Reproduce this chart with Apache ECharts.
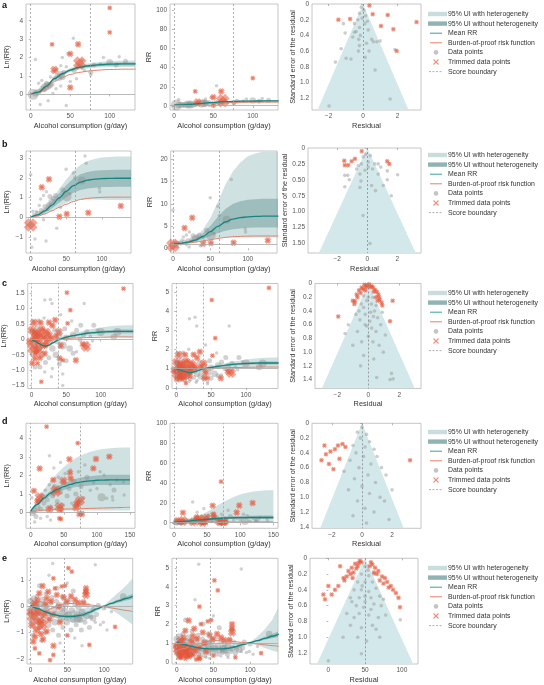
<!DOCTYPE html>
<html>
<head>
<meta charset="utf-8">
<script src="https://cdn.jsdelivr.net/npm/echarts@6/dist/echarts.min.js"></script>
<style>
  html, body { margin: 0; padding: 0; background: #fff; }
  #chart { width: 544px; height: 685px; }
</style>
</head>
<body>
<div id="chart"></div>
<script>
// ---- shared ticks ----
const xTicks = [0, 50, 100]
const xTicksD = [0, 50, 100, 150]
const resTicks = [-2, 0, 2]
const resLabels = ['−2', '0', '2']

// ---- row a ----
const aCurveX = [0, 10, 20, 30, 40, 50, 60, 70, 80, 90, 100, 110, 120, 133]
const aMean = [0, 0.12, 0.45, 0.85, 1.12, 1.32, 1.45, 1.53, 1.58, 1.62, 1.64, 1.65, 1.66, 1.66]
const aOutHi = [0, 0.16, 0.52, 0.94, 1.22, 1.43, 1.57, 1.66, 1.72, 1.77, 1.8, 1.82, 1.83, 1.84]
const aOutLo = [0, 0.08, 0.38, 0.76, 1.02, 1.21, 1.33, 1.4, 1.44, 1.47, 1.48, 1.48, 1.49, 1.48]
const aInHi = [0, 0.14, 0.49, 0.9, 1.17, 1.38, 1.51, 1.6, 1.65, 1.7, 1.72, 1.73, 1.75, 1.75]
const aInLo = [0, 0.1, 0.41, 0.8, 1.07, 1.26, 1.39, 1.46, 1.51, 1.54, 1.56, 1.57, 1.57, 1.57]
const aBop = [0, 0.08, 0.35, 0.7, 0.92, 1.08, 1.18, 1.25, 1.3, 1.33, 1.35, 1.36, 1.37, 1.37]
const aBounds = [0, 75]
// [consumption, ln(RR), weight]
const aGray = [[3, 0, 6], [6, 0.05, 3], [9, 0.12, 3], [12, 0.2, 2], [15, 0.3, 3], [18, 0.38, 4], [21, 0.45, 4], [24, 0.5, 3], [27, 0.55, 2], [20, 0.6, 2], [17, 0.25, 2], [12, -0.55, 1], [6, 1.9, 1], [10, 0.6, 1], [14, 0.75, 1], [22, -0.35, 1], [28, 0.05, 1], [30, 0.85, 2], [33, 1.35, 1], [35, 0.95, 4], [38, 1.05, 4], [40, 0.95, 3], [42, 1.2, 2], [38, 1.55, 1], [40, 2.0, 1], [45, 1.5, 1], [47, 2.2, 1], [45, -0.6, 1], [54, 3.05, 1], [55, 1.3, 2], [58, 0.85, 1], [60, 1.55, 2], [65, 1.85, 1], [68, 1.3, 1], [76, 1.2, 2], [76, 1.05, 1], [80, 1.6, 2], [88, 1.65, 1], [92, 2.0, 1], [100, 1.75, 3], [108, 1.6, 2], [112, 2.05, 1], [120, 1.8, 2], [38, 0.45, 1], [50, 0.7, 1], [32, 0.3, 1], [25, 0.95, 1], [30, 1.25, 1]]
const aTrim = [[100, 4.7, 1], [100, 3.37, 1], [27, 2.72, 1], [60, 2.72, 2], [50, 2.2, 2], [30, 1.33, 3], [62, 1.7, 6], [50, 0.37, 2]]
// [residual, standard error]
const aFunGray = [[-0.1, 0.04], [0.05, 0.08], [-0.2, 0.12], [0.15, 0.15], [-0.3, 0.2], [-0.5, 0.25], [-0.2, 0.3], [0.3, 0.33], [-0.4, 0.35], [-0.5, 0.36], [-0.6, 0.42], [0.5, 0.45], [-0.25, 0.45], [0.6, 0.48], [0.8, 0.48], [0.99, 0.47], [0.2, 0.5], [-0.21, 0.53], [-0.27, 0.6], [0.12, 0.68], [-0.7, 0.7], [0.7, 0.84], [1.57, 1.21], [-1.14, 0.25], [-1.04, 0.37], [-1.27, 0.57], [-0.98, 0.69], [-1.6, 0.74], [-1.97, 1.3], [0.1, 0.25], [-0.05, 0.18], [0.25, 0.22], [-0.15, 0.4], [0.35, 0.6], [1.85, 0.58]]
const aFunTrim = [[0.37, 0.02], [0.56, 0.13], [1.43, 0.14], [1.04, 0.28], [1.76, 0.32], [3.1, 0.23], [1.95, 0.6], [-1.43, 0.2], [-0.75, 0.19]]
const aFunnel = [[0, 0], [-2.64, 1.35], [2.64, 1.35]]
const aLnTicks = [0, 1, 2, 3, 4]
const aLnLabels = ['0', '1', '2', '3', '4']
const aRrTicks = [0, 20, 40, 60, 80, 100]
const aRrLabels = ['0', '20', '40', '60', '80', '100']
const aSeTicks = [0, 0.2, 0.4, 0.6, 0.8, 1.0, 1.2]
const aSeLabels = ['0', '0.2', '0.4', '0.6', '0.8', '1.0', '1.2']

// ---- row b ----
const bCurveX = [0, 10, 20, 30, 40, 50, 60, 70, 80, 90, 100, 110, 120, 130, 141]
const bMean = [0, 0.12, 0.33, 0.62, 0.98, 1.32, 1.6, 1.78, 1.88, 1.93, 1.96, 1.97, 1.98, 1.98, 1.98]
const bOutHi = [0, 0.2, 0.51, 0.92, 1.43, 1.92, 2.35, 2.66, 2.85, 2.96, 3.03, 3.06, 3.08, 3.08, 3.08]
const bOutLo = [0, 0.04, 0.15, 0.32, 0.53, 0.72, 0.85, 0.9, 0.91, 0.9, 0.89, 0.88, 0.88, 0.88, 0.88]
const bInHi = [0, 0.16, 0.43, 0.78, 1.22, 1.62, 1.96, 2.18, 2.3, 2.36, 2.39, 2.4, 2.41, 2.41, 2.41]
const bInLo = [0, 0.08, 0.23, 0.46, 0.74, 1.02, 1.24, 1.38, 1.46, 1.5, 1.53, 1.54, 1.55, 1.55, 1.55]
const bBop = [0, 0.06, 0.17, 0.33, 0.5, 0.66, 0.8, 0.9, 0.96, 0.99, 1.01, 1.02, 1.02, 1.02, 1.02]
const bBounds = [0, 62]
const bGray = [[0, 2.15, 1], [1.4, -1.52, 1], [6, -1.1, 1], [21.6, -1.2, 1], [27, 1.05, 2], [14, 0.93, 1], [36.6, -0.56, 1], [50.7, 1.05, 5], [71.7, 1.86, 4], [76.4, 3.11, 1], [78, 2.74, 1], [49.8, 2.43, 1], [96.6, 1.47, 1], [97, 1.3, 1], [8, 0.28, 1], [18, -0.13, 1], [29.5, 0.79, 3], [31.8, 0.96, 2], [5, 0.1, 2], [10, 0.2, 2], [15, 0.35, 2], [20, 0.55, 2], [25, 0.65, 2], [35, 1.1, 2], [40, 0.9, 1], [45, 1.4, 2], [55, 1.2, 1], [60, 2.25, 1], [22, 1.3, 1], [18, 1.1, 1], [12, 0.6, 1], [3, 0.3, 1], [24, 0.4, 1], [42, 0.5, 1], [62, 2.0, 1]]
const bTrim = [[0, -0.39, 6], [15.5, 1.52, 2], [25.7, 1.93, 2], [40.3, 0.03, 2], [50.7, 0.17, 2], [81, 0.23, 2], [126.7, 0.57, 2]]
const bFunGray = [[-1.5, 0.43], [-1.3, 0.43], [-1.2, 0.5], [-1.5, 0.61], [-0.27, 0.14], [0.07, 0.22], [0.5, 0.25], [0.73, 0.25], [-0.71, 0.33], [-0.49, 0.41], [-0.42, 0.52], [-0.49, 0.62], [0.55, 0.67], [1.07, 0.59], [1.33, 0.5], [1.33, 0.36], [2.02, 0.42], [1.6, 0.75], [-0.28, 1.06], [0.18, 1.5], [0.73, 0.41], [0.29, 0.59], [0.07, 0.3], [-0.1, 0.1], [0.2, 0.12], [-0.4, 0.25], [0.35, 0.33], [-0.15, 0.35], [0.9, 0.3], [-0.6, 0.28]]
const bFunTrim = [[-0.37, 0.05], [-0.82, 0.17], [-1.04, 0.21], [-1.53, 0.2], [-1.27, 0.27], [-1.5, 0.27], [1.33, 0.21], [1.47, 0.25]]
const bFunnel = [[0, 0], [-3.25, 1.66], [3.25, 1.66]]
const bLnTicks = [-1, 0, 1, 2, 3]
const bLnLabels = ['−1', '0', '1', '2', '3']
const bRrTicks = [0, 5, 10, 15, 20]
const bRrLabels = ['0', '5', '10', '15', '20']
const bSeTicks = [0, 0.25, 0.5, 0.75, 1.0, 1.25, 1.5]
const bSeLabels = ['0', '0.25', '0.50', '0.75', '1.00', '1.25', '1.50']

// ---- row c ----
const cCurveX = [0, 5, 10, 15, 20, 25, 30, 40, 50, 60, 70, 80, 90, 100, 110, 120, 130, 140, 147]
const cMean = [0, -0.06, -0.13, -0.19, -0.22, -0.19, -0.12, 0.0, 0.07, 0.12, 0.16, 0.2, 0.22, 0.24, 0.25, 0.26, 0.26, 0.26, 0.26]
const cOutHi = [0, -0.04, -0.1, -0.16, -0.19, -0.16, -0.09, 0.04, 0.12, 0.19, 0.25, 0.31, 0.35, 0.39, 0.42, 0.44, 0.45, 0.46, 0.46]
const cOutLo = [0, -0.08, -0.16, -0.22, -0.25, -0.22, -0.15, -0.04, 0.02, 0.05, 0.07, 0.09, 0.09, 0.09, 0.08, 0.08, 0.07, 0.06, 0.06]
const cInHi = [0, -0.05, -0.12, -0.18, -0.21, -0.18, -0.11, 0.01, 0.09, 0.14, 0.19, 0.23, 0.26, 0.28, 0.3, 0.31, 0.32, 0.32, 0.32]
const cInLo = [0, -0.07, -0.14, -0.2, -0.23, -0.2, -0.13, -0.01, 0.05, 0.1, 0.13, 0.17, 0.18, 0.2, 0.2, 0.21, 0.2, 0.2, 0.2]
const cBop = [0, -0.06, -0.12, -0.17, -0.19, -0.16, -0.1, -0.01, 0.03, 0.04, 0.05, 0.06, 0.06, 0.07, 0.07, 0.08, 0.08, 0.08, 0.08]
const cBounds = [0, 39]
const cGray = [[19, 1.28, 1], [29.5, 1.17, 1], [76, 1.17, 1], [71, 0.46, 2], [90, 0.46, 2], [100, 0.24, 4], [124, 0.24, 4], [119, 0.08, 3], [45, -1.13, 1], [28.6, -1.22, 1], [19, -1.06, 1], [5, -0.9, 2], [40, -0.8, 2], [35, -0.5, 3], [55, -0.3, 3], [60, -0.45, 2], [45, -0.2, 4], [50, 0.05, 3], [60, 0.15, 3], [65, 0.3, 2], [70, 0.0, 2], [75, 0.15, 2], [80, 0.25, 2], [85, 0.1, 1], [48, 0.35, 2], [40, 0.1, 3], [30, -0.3, 3], [25, -0.6, 2], [20, -0.75, 2], [15, -0.5, 3], [10, -0.3, 3], [8, 0.35, 3], [2, 0.25, 3], [4, -0.15, 4], [12, 0.05, 3], [22, 0.05, 3], [26, -0.1, 3], [33, 0.3, 2], [37, -0.05, 3], [12, -0.9, 2], [30, -0.95, 1], [50, -0.7, 2], [65, -0.4, 1], [58, 0.6, 1], [88, -0.05, 1], [95, 0.3, 1], [42, 0.8, 1], [18, 0.7, 1], [27, 1.3, 1], [10, 0.6, 2], [1, -0.5, 2], [3, 0.6, 1], [45, -1.5, 1], [80, -0.1, 1]]
const cTrim = [[133, 1.65, 1], [51, 1.52, 1], [56, 0.95, 1], [34, 0.63, 2], [25, 0.55, 2], [30, 0.45, 2], [3.3, 0.54, 3], [12.9, 0.54, 2], [7, 0.09, 5], [13, 0.19, 5], [25, 0.14, 3], [39.3, 0.24, 3], [-2.4, -0.08, 3], [2, -0.3, 5], [9.5, -0.35, 4], [16.7, -0.18, 3], [4.8, -0.62, 2], [1, -0.78, 2], [40.5, -0.62, 2], [45, -0.68, 1], [64, -0.68, 2], [78.6, -0.24, 4], [74, -0.16, 2], [14, -1.38, 1], [8.6, -0.78, 1], [19, -0.46, 2], [21.4, 0.25, 3], [28.6, 0.03, 2], [52, 0.52, 1], [0, 0.3, 3], [5, 0.2, 3], [10, -0.1, 3], [18, 0.05, 2], [6, -0.45, 2], [15, 0.35, 2], [20, -0.2, 2], [22, -0.05, 2], [3, 0.0, 3], [12, -0.6, 2], [35, 0.1, 2], [42, -0.2, 2]]
const cFunGray = [[-0.54, 0.53], [0.22, 0.65], [0.0, 0.77], [0.97, 1.0], [-0.43, 0.85], [1.5, 1.31], [1.6, 1.39], [1.4, 1.4], [0.54, 1.37], [-0.21, 0.6], [0.33, 0.48], [-1.29, 0.6], [-1.5, 0.73], [-0.3, 0.35], [0.2, 0.3], [-0.1, 0.25], [0.4, 0.4], [-0.6, 0.4], [0.6, 0.5], [-0.8, 0.45], [0.8, 0.6], [-0.2, 0.45], [0.1, 0.55], [0.5, 0.7], [-0.7, 0.7], [0.3, 0.85], [-0.3, 1.05], [0.7, 0.9], [-1.0, 0.9], [1.1, 0.75], [0.0, 0.2], [-0.3, 0.18], [0.3, 0.2], [-0.45, 0.3], [0.5, 0.32], [0.15, 0.42], [-0.1, 0.62], [0.35, 1.1], [-0.5, 1.2], [0.9, 0.42]]
const cFunTrim = [[1.57, 0.25], [1.4, 0.55], [-0.75, 0.16], [-0.86, 0.26], [-0.43, 0.06], [-0.11, 0.03], [0.22, 0.04], [0.43, 0.09], [0.65, 0.16], [0.75, 0.24], [0.86, 0.28], [-1.94, 0.48], [-0.25, 0.02], [0.05, 0.01], [0.3, 0.06], [-0.6, 0.1], [-0.5, 0.14], [0.55, 0.12], [-0.7, 0.2], [0.7, 0.2], [-0.35, 0.08], [0.1, 0.05], [-0.15, 0.05], [0.5, 0.2], [-0.9, 0.3], [0.9, 0.32], [-0.2, 0.1], [0.35, 0.12], [-1.0, 0.25], [0.6, 0.25]]
const cFunnel = [[0, 0], [-3.0, 1.53], [3.0, 1.53]]
const cLnTicks = [-1.5, -1, -0.5, 0, 0.5, 1, 1.5]
const cLnLabels = ['−1.5', '−1.0', '−0.5', '0', '0.5', '1.0', '1.5']
const cRrTicks = [0, 1, 2, 3, 4, 5]
const cRrLabels = ['0', '1', '2', '3', '4', '5']
const cSeTicks = [0, 0.2, 0.4, 0.6, 0.8, 1.0, 1.2, 1.4]
const cSeLabels = ['0', '0.2', '0.4', '0.6', '0.8', '1.0', '1.2', '1.4']

// ---- row d ----
const dCurveX = [0, 10, 20, 30, 40, 50, 60, 70, 80, 90, 100, 110, 120, 130, 140, 150]
const dMean = [0.08, 0.45, 0.78, 1.05, 1.25, 1.4, 1.52, 1.61, 1.67, 1.71, 1.74, 1.75, 1.76, 1.76, 1.76, 1.76]
const dOutHi = [0.13, 0.7, 1.23, 1.7, 2.1, 2.45, 2.74, 2.97, 3.14, 3.27, 3.36, 3.42, 3.46, 3.48, 3.5, 3.5]
const dOutLo = [0.0, 0.05, 0.08, 0.1, 0.11, 0.12, 0.12, 0.12, 0.12, 0.12, 0.12, 0.12, 0.12, 0.12, 0.12, 0.12]
const dInHi = [0.1, 0.51, 0.88, 1.18, 1.41, 1.58, 1.72, 1.83, 1.91, 1.96, 2.0, 2.02, 2.03, 2.04, 2.04, 2.04]
const dInLo = [0.06, 0.39, 0.68, 0.92, 1.09, 1.22, 1.32, 1.39, 1.43, 1.46, 1.48, 1.48, 1.49, 1.48, 1.48, 1.48]
const dBop = [0.03, 0.1, 0.14, 0.16, 0.18, 0.19, 0.2, 0.21, 0.22, 0.23, 0.24, 0.25, 0.26, 0.27, 0.28, 0.29]
const dBounds = [0, 75]
const dGray = [[28.2, 3.06, 1], [110.7, 2.02, 1], [81.8, 2.56, 1], [114.7, 0.77, 1], [123.3, 0.86, 1], [125.8, 1.22, 2], [124, 0.68, 1], [141, 0.95, 1], [107, 0.83, 4], [120, 1.5, 1], [130, 1.75, 1], [140, 1.65, 1], [5, 0.1, 3], [8, -0.2, 2], [10, 0.3, 3], [3, 0.0, 3], [12, 0.6, 2], [15, 0.2, 2], [18, 0.9, 2], [20, 0.5, 2], [22, 1.2, 1], [25, 0.7, 2], [28, 1.5, 1], [30, 0.3, 2], [33, 0.9, 2], [36, 1.4, 2], [40, 0.6, 2], [42, 1.9, 1], [45, 1.1, 2], [48, 0.4, 2], [50, 1.6, 2], [52, 2.1, 1], [55, 0.9, 2], [58, 1.3, 2], [62, 0.5, 1], [65, 1.7, 2], [68, 1.0, 2], [72, 2.2, 1], [76, 1.4, 2], [80, 0.8, 1], [85, 1.9, 2], [90, 1.2, 1], [95, 1.6, 1], [100, 1.3, 1], [105, 2.2, 1], [6, -0.5, 1], [15, -0.3, 1], [25, -0.2, 1], [35, 2.4, 1], [45, 2.7, 1], [60, 2.3, 1], [2, 0.8, 1], [30, -0.4, 1]]
const dTrim = [[24, 4.62, 1], [71, 3.73, 1], [4.9, 1.17, 2], [13.5, 2.37, 2], [13.5, 0.83, 4], [34, 1.76, 2], [38.2, 1.17, 5], [49.3, 1.71, 3], [58.4, 2.87, 2], [59.4, 2.15, 2], [60.4, 1.84, 2], [94.6, 2.38, 2], [98.6, 2.88, 2], [118.7, 3.01, 2], [43.3, 0.3, 4], [28.2, 0.18, 3], [43.3, -0.31, 1], [45.8, -0.34, 1], [74.5, 0.65, 4], [70.4, 0.5, 3], [68.4, 0.29, 3], [73.4, -0.07, 2], [77.5, -0.07, 2], [45, 0.15, 2], [10, 0.6, 2]]
const dFunGray = [[0, 0.05], [-0.3, 0.12], [0.3, 0.15], [-0.1, 0.2], [0.5, 0.25], [-0.6, 0.3], [0.2, 0.32], [0.8, 0.35], [-0.4, 0.4], [1.0, 0.45], [0.1, 0.45], [-0.8, 0.5], [0.6, 0.55], [-0.2, 0.6], [1.3, 0.6], [0.4, 0.7], [-0.5, 0.75], [0.9, 0.8], [1.6, 0.7], [0.0, 0.85], [-0.9, 0.9], [0.5, 0.95], [1.2, 1.0], [-0.3, 1.05], [0.2, 1.15], [0.8, 1.2], [-0.6, 1.25], [1.5, 1.05], [2.0, 0.9], [-1.2, 0.65], [0.3, 1.35], [1.8, 1.3]]
const dFunTrim = [[-2.7, 0.5], [-2.4, 0.42], [-2.1, 0.38], [-1.8, 0.35], [-1.6, 0.3], [-1.3, 0.28], [-1.1, 0.32], [-2.2, 0.55], [-1.9, 0.62], [-1.5, 0.48], [-2.5, 0.3], [3.2, 0.5]]
const dFunnel = [[0, 0], [-2.78, 1.42], [2.78, 1.42]]
const dLnTicks = [0, 1, 2, 3, 4]
const dLnLabels = ['0', '1', '2', '3', '4']
const dRrTicks = [0, 20, 40, 60, 80, 100]
const dRrLabels = ['0', '20', '40', '60', '80', '100']
const dSeTicks = [0, 0.2, 0.4, 0.6, 0.8, 1.0, 1.2, 1.4]
const dSeLabels = ['0', '0.2', '0.4', '0.6', '0.8', '1.0', '1.2', '1.4']
const dResTicks = [-2, 0, 2, 4]
const dResLabels = ['−2', '0', '2', '4']

// ---- row e ----
const eCurveX = [0, 10, 20, 30, 40, 50, 60, 70, 80, 90, 100, 110, 120, 130, 139]
const eMean = [0.05, -0.08, -0.2, -0.3, -0.36, -0.38, -0.37, -0.33, -0.22, -0.09, 0.02, 0.12, 0.22, 0.31, 0.39]
const eOutHi = [0.1, -0.03, -0.14, -0.22, -0.24, -0.2, -0.12, -0.08, -0.04, 0.0, 0.05, 0.3, 0.55, 0.8, 1.09]
const eOutLo = [0, -0.13, -0.26, -0.38, -0.48, -0.56, -0.62, -0.6, -0.45, -0.2, -0.02, -0.12, -0.3, -0.5, -0.7]
const eInHi = [0.08, -0.05, -0.17, -0.27, -0.32, -0.32, -0.3, -0.25, -0.15, -0.05, 0.04, 0.16, 0.28, 0.39, 0.49]
const eInLo = [0.02, -0.11, -0.23, -0.33, -0.4, -0.44, -0.44, -0.41, -0.29, -0.13, 0.0, 0.08, 0.16, 0.23, 0.29]
const eBop = [-0.55, -0.35, -0.18, -0.05, 0.07, 0.12, 0.12, 0.1, 0.07, 0.03, 0.0, -0.05, -0.1, -0.15, -0.19]
const eBounds = [0, 46]
const eGray = [[0, 0.2, 3], [2, -0.1, 4], [4, 0.3, 3], [5, -0.4, 3], [6, 0.0, 4], [8, -0.6, 3], [9, 0.4, 2], [10, -0.2, 4], [12, 0.1, 3], [13, -0.8, 2], [14, -0.35, 3], [16, 0.25, 3], [17, -0.5, 3], [19, 0.0, 4], [20, -1.0, 2], [21, 0.5, 2], [23, -0.25, 3], [24, -0.7, 3], [26, 0.15, 3], [27, -0.45, 3], [29, 0.35, 2], [30, -0.9, 2], [32, -0.1, 3], [33, -0.6, 3], [35, 0.2, 2], [36, -0.3, 4], [38, -1.1, 2], [39, 0.05, 3], [41, -0.5, 3], [43, 0.4, 2], [44, -0.8, 2], [46, -0.2, 4], [48, 0.1, 3], [49, -0.6, 3], [51, -0.35, 4], [53, 0.25, 2], [55, -0.9, 2], [56, -0.15, 3], [58, -0.5, 3], [60, 0.1, 2], [62, -0.7, 2], [63, -0.3, 3], [65, 0.0, 3], [67, -0.5, 3], [69, -0.9, 2], [70, -0.2, 3], [72, 0.2, 2], [74, -0.6, 2], [76, -0.35, 3], [78, 0.05, 2], [80, -0.8, 2], [82, -0.4, 2], [85, -0.1, 2], [88, -0.6, 1], [90, -0.3, 2], [95, -0.7, 1], [99, -0.6, 1], [104, -0.9, 1], [110, -0.2, 1], [126, 0.39, 3], [88, 1.6, 1], [30, 1.65, 1], [3, -1.1, 2], [15, -1.3, 2], [40, -1.4, 1], [60, -1.2, 1], [25, 1.2, 1], [50, 0.9, 1], [70, -1.5, 1], [45, -1.7, 1], [12, 0.8, 2], [36, 0.7, 2], [58, 0.6, 2], [75, 0.55, 2], [22, -0.15, 4], [8, 0.05, 4], [42, -0.05, 4], [64, -0.45, 4], [85, -0.45, 3], [92, 0.05, 2], [100, -0.05, 2]]
const eTrim = [[51.4, 1.47, 1], [56, 1.34, 1], [31, 1.08, 1], [16.3, 0.79, 2], [42.3, 0.77, 1], [47, 0.8, 1], [75.4, 0.7, 2], [75.4, 0.45, 3], [75.4, 0.58, 2], [11.8, 0.51, 2], [24, 0.57, 2], [3.6, -0.38, 6], [12.7, -0.57, 3], [15, -0.7, 5], [3.6, -1.34, 2], [5.8, -1.6, 1], [31, -1.85, 1], [26.4, -2.05, 1], [31, -1.5, 2], [11.8, -1.79, 1], [115, -0.78, 1], [80, -1.47, 1], [22, 0.32, 2], [35.6, 0.45, 2], [49, 0.19, 2], [60.4, 0.26, 2], [72, 0.13, 2], [37.8, 0.0, 2], [5, 0.1, 3], [8, -0.9, 3], [10, -0.2, 3], [14, -1.05, 2], [18, -0.3, 3], [20, 0.1, 2], [25, -0.5, 2], [28, 0.2, 2], [2, -0.7, 3], [6, -1.15, 2], [17, -1.25, 2], [22, -0.95, 2], [30, -0.3, 2], [45, 0.35, 2], [55, 0.4, 2], [65, 0.15, 2], [0, -0.2, 3], [9, 0.25, 2], [40, -0.6, 2], [50, -1.1, 1], [33, 0.7, 1]]
const eFunGray = [[50, 0.1], [45, 0.2], [55, 0.22], [40, 0.3], [50, 0.3], [60, 0.3], [35, 0.4], [45, 0.4], [55, 0.42], [65, 0.38], [30, 0.5], [42, 0.5], [50, 0.48], [58, 0.5], [70, 0.48], [38, 0.6], [48, 0.62], [62, 0.58], [72, 0.6], [25, 0.7], [35, 0.75], [55, 0.72], [68, 0.75], [78, 0.72], [30, 0.85], [45, 0.88], [60, 0.85], [40, 1.0], [20, 1.0], [52, 1.05], [70, 1.0], [45, 1.21], [0, 1.3], [98, 0.78], [65, 0.9], [32, 0.55], [75, 0.52], [42, 0.7], [58, 0.65], [50, 0.55], [46, 0.35], [54, 0.15], [62, 0.2]]
const eFunTrim = [[16, 0.1], [20.6, 0.25], [0, 0.35], [4.5, 0.46], [-6.8, 0.46], [-4.6, 0.52], [9, 0.4], [13.6, 0.35], [27.3, 0.16], [31.8, 0.12], [36.4, 0.07], [41, 0.06], [43, 0.03], [40, 0.1], [34, 0.18], [25, 0.23], [30, 0.2], [38, 0.13], [22, 0.28], [63.6, 0.12], [68, 0.16], [73, 0.23], [77, 0.25], [82, 0.37], [92, 0.44], [95.5, 0.5], [97.5, 0.62], [60, 0.08], [58, 0.05], [66, 0.2], [70, 0.28], [75, 0.32], [85, 0.35], [88, 0.4], [62, 0.18], [56, 0.1], [80, 0.3], [45, 0.05], [33, 0.25]]
const eFunnel = [[50, 0], [-15.5, 1.34], [115.5, 1.34]]
const eLnTicks = [-2, -1, 0, 1]
const eLnLabels = ['−2', '−1', '0', '1']
const eRrTicks = [0, 1, 2, 3, 4, 5]
const eRrLabels = ['0', '1', '2', '3', '4', '5']
const eSeTicks = [0, 0.2, 0.4, 0.6, 0.8, 1.0, 1.2]
const eSeLabels = ['0', '0.2', '0.4', '0.6', '0.8', '1.0', '1.2']
const eResTicks = [0, 50, 100]
const eResLabels = ['0', '50', '100']

const legendNames = ['95% UI with heterogeneity', '95% UI without heterogeneity', 'Mean RR', 'Burden-of-proof risk function', 'Data points', 'Trimmed data points', 'Score boundary']

// ---- styles ----
const FONT = 'Liberation Sans, Arial, sans-serif'
const TEAL = '#15857f'
const BOP = '#df846d'
const LIGHT = 'rgba(168,200,200,0.55)'
const DARK = 'rgba(110,155,155,0.5)'
const FUNNEL = '#d3e8ea'
const GRAY = 'rgba(140,140,140,0.5)'
const TRIM = 'rgba(228,86,58,0.66)'
// the trimmed marker is two translucent diagonal bars, so the middle reads darker
const BAR_A = 'path://M0,3.3L3.3,0L10,6.7L6.7,10Z'
const BAR_B = 'path://M6.7,0L10,3.3L3.3,10L0,6.7Z'

const grids = []
const xAxes = []
const yAxes = []
const series = []
const graphics = []

function fmt(ticks, labels) {
  return v => {
    const k = ticks.findIndex(t => Math.abs(t - v) < 1e-6)
    return k < 0 ? '' : labels[k]
  }
}

function panel(p) {
  const i = grids.length
  grids.push({ left: p.box[0], top: p.box[1], width: p.box[2], height: p.box[3], show: true, borderColor: '#b8b8b8', borderWidth: 0.8 })
  xAxes.push({
    gridIndex: i, type: 'value', min: p.xr[0], max: p.xr[1],
    name: p.xname, nameLocation: 'middle', nameGap: 12,
    nameTextStyle: { fontFamily: FONT, fontSize: 7.4, color: '#333' },
    axisLine: { show: false },
    axisTick: { show: true, customValues: p.xt, length: 2, lineStyle: { color: '#999', width: 0.7 } },
    axisLabel: { customValues: p.xt, formatter: fmt(p.xt, p.xl), fontFamily: FONT, fontSize: 6.5, color: '#555', margin: 3 },
    splitLine: { show: false }
  })
  yAxes.push({
    gridIndex: i, type: 'value', min: p.yr[0], max: p.yr[1], inverse: !!p.inverse,
    name: p.yname, nameLocation: 'middle', nameGap: p.gap, nameRotate: 90,
    nameTextStyle: { fontFamily: FONT, fontSize: 7.2, color: '#333' },
    axisLine: { show: false },
    axisTick: { show: true, customValues: p.yt, length: 2, lineStyle: { color: '#999', width: 0.7 } },
    axisLabel: { customValues: p.yt, formatter: fmt(p.yt, p.yl), fontFamily: FONT, fontSize: 6.5, color: '#555', margin: 3 },
    splitLine: { show: false }
  })
  return i
}

function polygon(ax, pts, color) {
  return {
    type: 'custom', xAxisIndex: ax, yAxisIndex: ax, silent: true, clip: true,
    data: [pts[0]],
    renderItem: (params, api) => ({
      type: 'polygon',
      shape: { points: pts.map(q => api.coord(q)) },
      style: { fill: color }
    })
  }
}

function band(ax, xs, lo, hi, color, tf) {
  const top = xs.map((x, i) => [x, tf(hi[i])])
  const bot = xs.map((x, i) => [x, tf(lo[i])]).reverse()
  return polygon(ax, top.concat(bot), color)
}

function curve(ax, xs, ys, color, width, tf, marks) {
  const s = {
    type: 'line', xAxisIndex: ax, yAxisIndex: ax, silent: true,
    data: xs.map((x, i) => [x, tf(ys[i])]),
    smooth: 0.35, smoothMonotone: 'x', showSymbol: false, symbol: 'none',
    lineStyle: { color: color, width: width }
  }
  if (marks) {
    s.markLine = { silent: true, symbol: ['none', 'none'], label: { show: false }, data: marks }
  }
  return s
}

function dots(ax, pts, tf) {
  return {
    type: 'scatter', xAxisIndex: ax, yAxisIndex: ax, silent: true,
    data: pts.map(q => [q[0], tf(q[1]), q[2]]),
    symbol: 'circle', symbolSize: v => 2 + v[2] * 1.5,
    itemStyle: { color: GRAY }
  }
}

function crosses(ax, pts, tf, size) {
  return [BAR_A, BAR_B].map(bar => ({
    type: 'scatter', xAxisIndex: ax, yAxisIndex: ax, silent: true,
    data: pts.map(q => [q[0], tf(q[1]), q.length > 2 ? q[2] : 0]),
    symbol: bar, symbolSize: size,
    itemStyle: { color: TRIM }
  }))
}

function exposurePanel(ax, r, tf) {
  const marks = r.bounds.map(b => ({ xAxis: b, lineStyle: { color: '#9c9c9c', type: [2, 2], width: 0.8 } }))
  marks.push({ yAxis: tf(0), lineStyle: { color: '#a8a8a8', type: 'solid', width: 0.8 } })
  series.push(dots(ax, r.gray, tf))
  series.push(band(ax, r.cx, r.outLo, r.outHi, LIGHT, tf))
  series.push(band(ax, r.cx, r.inLo, r.inHi, DARK, tf))
  series.push(...crosses(ax, r.trim, tf, v => 3.5 + v[2] * 1.7))
  series.push(curve(ax, r.cx, r.bop, BOP, 1, tf))
  series.push(curve(ax, r.cx, r.mean, TEAL, 1.3, tf, marks))
}

function funnelPanel(ax, r) {
  series.push(polygon(ax, r.funnel, FUNNEL))
  series.push({
    type: 'scatter', xAxisIndex: ax, yAxisIndex: ax, silent: true,
    data: r.funGray, symbol: 'circle', symbolSize: 3.6,
    itemStyle: { color: 'rgba(150,150,150,0.6)' },
    markLine: { silent: true, symbol: ['none', 'none'], label: { show: false }, data: [{ xAxis: r.funnel[0][0], lineStyle: { color: '#8a8a8a', type: [2, 2], width: 0.8 } }] }
  })
  series.push(...crosses(ax, r.funTrim, same, 5))
}

function legend(y0) {
  const dy = 9.6
  const x0 = 428
  graphics.push({ type: 'rect', shape: { x: x0, y: y0 - 2.2, width: 19, height: 4.4 }, style: { fill: '#cadcdc' } })
  graphics.push({ type: 'rect', shape: { x: x0, y: y0 + dy - 2.2, width: 19, height: 4.4 }, style: { fill: '#92b3b3' } })
  graphics.push({ type: 'line', shape: { x1: x0 + 2, y1: y0 + 2 * dy, x2: x0 + 14, y2: y0 + 2 * dy }, style: { stroke: '#3aa39c', lineWidth: 1 } })
  graphics.push({ type: 'line', shape: { x1: x0 + 2, y1: y0 + 3 * dy, x2: x0 + 14, y2: y0 + 3 * dy }, style: { stroke: '#ef7e6a', lineWidth: 1 } })
  graphics.push({ type: 'circle', shape: { cx: x0 + 8, cy: y0 + 4 * dy, r: 2.3 }, style: { fill: '#c4c4c4' } })
  graphics.push({ type: 'line', shape: { x1: x0 + 5.5, y1: y0 + 5 * dy - 2.5, x2: x0 + 10.5, y2: y0 + 5 * dy + 2.5 }, style: { stroke: '#f0907a', lineWidth: 1.1 } })
  graphics.push({ type: 'line', shape: { x1: x0 + 10.5, y1: y0 + 5 * dy - 2.5, x2: x0 + 5.5, y2: y0 + 5 * dy + 2.5 }, style: { stroke: '#f0907a', lineWidth: 1.1 } })
  graphics.push({ type: 'line', shape: { x1: x0 + 1, y1: y0 + 6 * dy, x2: x0 + 15, y2: y0 + 6 * dy }, style: { stroke: '#999', lineWidth: 0.8, lineDash: [2, 1.5] } })
  legendNames.forEach((name, k) => {
    graphics.push({ type: 'text', x: 448, y: y0 + k * dy, style: { text: name, font: '6.9px ' + FONT, fill: '#333', verticalAlign: 'middle' } })
  })
}

function letter(ch, x, y) {
  graphics.push({ type: 'text', x: x, y: y, style: { text: ch, font: 'bold 9px ' + FONT, fill: '#111', verticalAlign: 'top' } })
}

function same(v) { return v }
const XN = 'Alcohol consumption (g/day)'
const SEN = 'Standard error of the residual'

function addRow(r) {
  const g1 = panel({ box: r.box1, xr: r.x1, yr: r.y1, xt: r.xt, xl: r.xt.map(String), yt: r.lnT, yl: r.lnL, xname: XN, yname: 'Ln(RR)', gap: r.gaps[0] })
  const g2 = panel({ box: r.box2, xr: r.x2, yr: r.y2, xt: r.xt, xl: r.xt.map(String), yt: r.rrT, yl: r.rrL, xname: XN, yname: 'RR', gap: r.gaps[1] })
  const g3 = panel({ box: r.box3, xr: r.x3, yr: r.y3, xt: r.resT, xl: r.resL, yt: r.seT, yl: r.seL, xname: 'Residual', yname: SEN, gap: r.gaps[2], inverse: true })
  exposurePanel(g1, r, same)
  exposurePanel(g2, r, Math.exp)
  funnelPanel(g3, r)
  legend(r.legendY)
  letter(r.letter, 2, r.letterY)
}

addRow({
  letter: 'a', letterY: 1, legendY: 14,
  box1: [26, 4, 109, 106], x1: [-6, 132], y1: [-0.85, 4.91],
  box2: [170, 4, 108, 106], x2: [-5, 132], y2: [-4.2, 106.3],
  box3: [312, 4, 109, 106], x3: [-2.96, 3.36], y3: [0, 1.35],
  gaps: [15.8, 14.6, 15],
  xt: xTicks, lnT: aLnTicks, lnL: aLnLabels, rrT: aRrTicks, rrL: aRrLabels, seT: aSeTicks, seL: aSeLabels, resT: resTicks, resL: resLabels,
  cx: aCurveX, mean: aMean, outHi: aOutHi, outLo: aOutLo, inHi: aInHi, inLo: aInLo, bop: aBop, bounds: aBounds,
  gray: aGray, trim: aTrim, funGray: aFunGray, funTrim: aFunTrim, funnel: aFunnel
})
addRow({
  letter: 'b', letterY: 140, legendY: 155,
  box1: [26, 151, 105, 102], x1: [-6.6, 141], y1: [-1.81, 3.36],
  box2: [170.7, 151, 106.3, 102], x2: [-3, 139], y2: [-1.05, 21.9],
  box3: [308, 148, 113, 105], x3: [-3.95, 3.58], y3: [0, 1.65],
  gaps: [15.6, 17, 16],
  xt: xTicks, lnT: bLnTicks, lnL: bLnLabels, rrT: bRrTicks, rrL: bRrLabels, seT: bSeTicks, seL: bSeLabels, resT: resTicks, resL: resLabels,
  cx: bCurveX, mean: bMean, outHi: bOutHi, outLo: bOutLo, inHi: bInHi, inLo: bInLo, bop: bBop, bounds: bBounds,
  gray: bGray, trim: bTrim, funGray: bFunGray, funTrim: bFunTrim, funnel: bFunnel
})
addRow({
  letter: 'c', letterY: 279, legendY: 293,
  box1: [26, 283.5, 107, 105], x1: [-5.7, 146.7], y1: [-1.6, 1.82],
  box2: [172, 283.5, 106, 105], x2: [-6, 146], y2: [-0.03, 5.43],
  box3: [315, 283.5, 106, 105], x3: [-3.44, 3.4], y3: [0, 1.53],
  gaps: [17.3, 13, 18],
  xt: xTicks, lnT: cLnTicks, lnL: cLnLabels, rrT: cRrTicks, rrL: cRrLabels, seT: cSeTicks, seL: cSeLabels, resT: resTicks, resL: resLabels,
  cx: cCurveX, mean: cMean, outHi: cOutHi, outLo: cOutLo, inHi: cInHi, inLo: cInLo, bop: cBop, bounds: cBounds,
  gray: cGray, trim: cTrim, funGray: cFunGray, funTrim: cFunTrim, funnel: cFunnel
})
addRow({
  letter: 'd', letterY: 417, legendY: 432,
  box1: [26, 423.3, 109, 105], x1: [-7.1, 157.5], y1: [-0.84, 4.8],
  box2: [170, 423.3, 108, 105], x2: [-6, 157], y2: [-5, 100],
  box3: [312, 423.3, 109, 105], x3: [-3.33, 3.93], y3: [0, 1.42],
  gaps: [15.6, 14.6, 14],
  xt: xTicksD, lnT: dLnTicks, lnL: dLnLabels, rrT: dRrTicks, rrL: dRrLabels, seT: dSeTicks, seL: dSeLabels, resT: dResTicks, resL: dResLabels,
  cx: dCurveX, mean: dMean, outHi: dOutHi, outLo: dOutLo, inHi: dInHi, inLo: dInLo, bop: dBop, bounds: dBounds,
  gray: dGray, trim: dTrim, funGray: dFunGray, funTrim: dFunTrim, funnel: dFunnel
})
addRow({
  letter: 'e', letterY: 554, legendY: 568,
  box1: [27, 558.3, 105.7, 105.7], x1: [-5, 139], y1: [-2.2, 1.85],
  box2: [172, 558.3, 106, 105.7], x2: [-6.4, 138], y2: [-0.12, 5.53],
  box3: [310, 558.3, 108, 105.7], x3: [-25, 122], y3: [0, 1.34],
  gaps: [16.6, 8.4, 13],
  xt: xTicks, lnT: eLnTicks, lnL: eLnLabels, rrT: eRrTicks, rrL: eRrLabels, seT: eSeTicks, seL: eSeLabels, resT: eResTicks, resL: eResLabels,
  cx: eCurveX, mean: eMean, outHi: eOutHi, outLo: eOutLo, inHi: eInHi, inLo: eInLo, bop: eBop, bounds: eBounds,
  gray: eGray, trim: eTrim, funGray: eFunGray, funTrim: eFunTrim, funnel: eFunnel
})

const chart = echarts.init(document.getElementById('chart'), null, { renderer: 'canvas' })
chart.setOption({
  animation: false,
  backgroundColor: '#fff',
  grid: grids,
  xAxis: xAxes,
  yAxis: yAxes,
  series: series,
  graphic: graphics
})
</script>
</body>
</html>
